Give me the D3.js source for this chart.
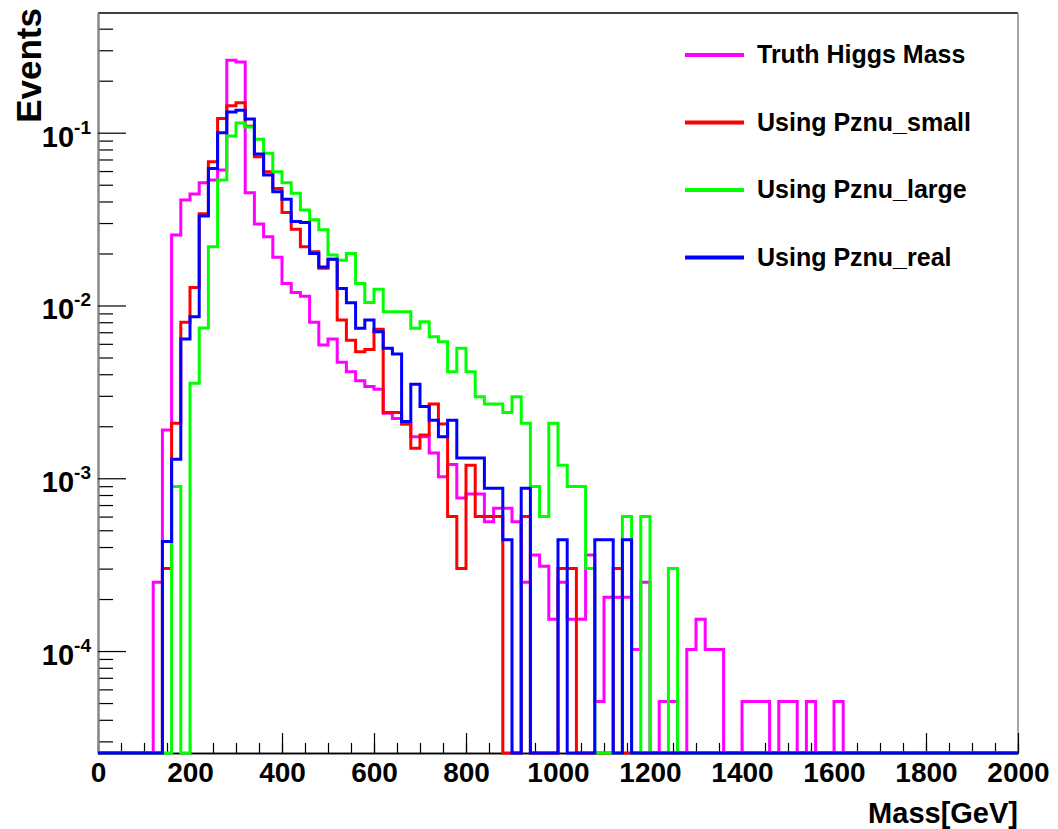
<!DOCTYPE html>
<html>
<head>
<meta charset="utf-8">
<title>Higgs mass reconstruction</title>
<script src="https://cdn.jsdelivr.net/npm/d3@7"></script>
<style>
body { margin: 0; background: #fff; }
text { font-family: "Liberation Sans", Arial, Helvetica, sans-serif; font-weight: bold; fill: #000; }
</style>
</head>
<body>
<svg id="chart" width="1058" height="829"></svg>
<script>
// 20 GeV bins from 0 to 2000 GeV, normalised event fractions
var binWidth = 20;
var binLow = d3.range(0, 2000, binWidth);

var truthMass = [0,0,0,0,0,0,2.5e-4,1.9e-3,0.0256,0.0408,
	0.0442,0.0514,0.0533,0.0608,0.263,0.257,0.0450,0.0296,0.0250,0.0190,
	0.0134,0.0119,0.0113,0.0080,0.0059,0.0064,0.0047,0.00414,0.00367,0.0034,
	0.00327,0.00238,0.00222,0.00206,0.00174,0.00174,0.0014,0.00102,0.0012,0.00077,
	0.00081,0.00081,0.00056,0.00067,0.00067,0.00056,0.00025,0.00036,0.00031,0.000153,
	0.00025,0.000153,0.000153,0.00036,0.000051,0.000205,0.000205,0.000205,0.000102,0.00025,
	0,0.000051,0.000051,0,0.000102,0.000153,0.000102,0.000102,0,0,
	0.000051,0.000051,0.000051,0,0.000051,0.000051,0,0.000051,0,0,
	0.000051,0,0,0,0,0,0,0,0,0,
	0,0,0,0,0,0,0,0,0,0];

var pznuSmall = [0,0,0,0,0,0,0,3.0e-4,0.00208,0.0080,
	0.0127,0.034,0.068,0.121,0.143,0.149,0.109,0.0727,0.0594,0.0476,
	0.0345,0.0276,0.0219,0.0205,0.0164,0.0185,0.00824,0.0063,0.0054,0.00557,
	0.00728,0.0024,0.0024,0.00206,0.00149,0.00178,0.00269,0.00206,0.0006,0.0003,
	0.00119,0.0006,0.0006,0.0006,0,0,0.0006,0,0,0,
	0.0003,0.0003,0,0,0,0,0.0003,0,0,0,
	0,0,0,0,0,0,0,0,0,0,
	0,0,0,0,0,0,0,0,0,0,
	0,0,0,0,0,0,0,0,0,0,
	0,0,0,0,0,0,0,0,0,0];

var pznuLarge = [0,0,0,0,0,0,0,0,0.000895,0,
	0.00355,0.0074,0.0219,0.0532,0.0957,0.114,0.108,0.0916,0.076,0.0594,
	0.0514,0.0446,0.0357,0.0313,0.0274,0.0196,0.0183,0.0200,0.0134,0.0104,
	0.0124,0.0092,0.0092,0.0092,0.00738,0.00805,0.0066,0.00617,0.00414,0.00565,
	0.00414,0.00296,0.00269,0.00269,0.0024,0.00296,0.00208,0.000895,0.0006,0.00208,
	0.00119,0.000895,0.000895,0.0003,0,0,0,0.0006,0,0.0006,
	0,0,0.0003,0,0,0,0,0,0,0,
	0,0,0,0,0,0,0,0,0,0,
	0,0,0,0,0,0,0,0,0,0,
	0,0,0,0,0,0,0,0,0,0];

var pznuReal = [0,0,0,0,0,0,0,4.3e-4,0.00129,0.0064,
	0.0086,0.033,0.062,0.100,0.132,0.135,0.120,0.0753,0.0569,0.0456,
	0.0412,0.0306,0.0302,0.0200,0.0167,0.0185,0.01256,0.01037,0.00738,0.00824,
	0.00705,0.00565,0.00524,0.00213,0.0035,0.0026,0.00217,0.00174,0.00217,0.00131,
	0.00131,0.00131,0.000875,0.000875,0.00044,0,0.000875,0,0,0,
	0.00044,0,0,0,0.00044,0.00044,0,0.00044,0,0,
	0,0,0,0,0,0,0,0,0,0,
	0,0,0,0,0,0,0,0,0,0,
	0,0,0,0,0,0,0,0,0,0,
	0,0,0,0,0,0,0,0,0,0];

var seriesNames = ["Truth Higgs Mass", "Using Pznu_small", "Using Pznu_large", "Using Pznu_real"];
var seriesColors = ["#ff00ff", "#ff0000", "#00ff00", "#0000ff"];
var seriesData = [truthMass, pznuSmall, pznuLarge, pznuReal];

var xTickValues = [0, 200, 400, 600, 800, 1000, 1200, 1400, 1600, 1800, 2000];
var yTickValues = [1e-4, 1e-3, 1e-2, 1e-1];
var yTickExponents = ["-4", "-3", "-2", "-1"];

var yMin = 2.57e-5, yMax = 0.493;

var svg = d3.select("#chart");
var plotLeft = 98, plotRight = 1018, plotTop = 13, plotBottom = 753;

var x = d3.scaleLinear().domain([0, 2000]).range([plotLeft, plotRight]);
var y = d3.scaleLog().domain([yMin, yMax]).range([plotBottom, plotTop]).clamp(true);

// frame: top and right edges
svg.append("line").attr("x1", plotLeft).attr("x2", plotRight).attr("y1", plotTop).attr("y2", plotTop)
	.attr("stroke", "#000").attr("stroke-width", 1.5);
svg.append("line").attr("x1", plotRight).attr("x2", plotRight).attr("y1", plotTop).attr("y2", plotBottom)
	.attr("stroke", "#888").attr("stroke-width", 1.5);

// x axis, ticks pointing into the frame
var gx = svg.append("g").attr("transform", "translate(0," + plotBottom + ")");
gx.call(d3.axisBottom(x).tickValues(x.ticks(40)).tickSizeInner(-10).tickSizeOuter(0).tickFormat(""));
gx.append("g").call(d3.axisBottom(x).tickValues(xTickValues).tickSizeInner(-20).tickSizeOuter(0)
	.tickPadding(9).tickFormat(d3.format("d")));
gx.selectAll("path.domain").attr("stroke", "#000").attr("stroke-width", 1.5);
gx.selectAll(".tick line").attr("stroke", "#000").attr("stroke-width", 1.2);
gx.selectAll(".tick text").attr("font-size", 28).attr("font-family", null).attr("fill", "#000");

// y axis (log), ticks inside
var gy = svg.append("g").attr("transform", "translate(" + plotLeft + ",0)");
var minorY = y.ticks().filter(function(d) {
	return !yTickValues.some(function(t) { return Math.abs(t - d) / t < 1e-6; });
});
gy.call(d3.axisLeft(y).tickValues(minorY).tickSizeInner(-15).tickSizeOuter(0).tickFormat(""));
gy.append("g").call(d3.axisLeft(y).tickValues(yTickValues).tickSizeInner(-28).tickSizeOuter(0).tickFormat(""));
gy.selectAll("path.domain").attr("stroke", "#888").attr("stroke-width", 2);
gy.selectAll(".tick line").attr("stroke", "#000").attr("stroke-width", 1.2);

// decade labels 10^n
var yLabels = svg.append("g").selectAll("text").data(yTickValues).enter().append("text")
	.attr("x", 91).attr("y", function(d) { return y(d) + 14; })
	.attr("text-anchor", "end").attr("font-size", 29);
yLabels.append("tspan").text("10");
yLabels.append("tspan").attr("font-size", 19).attr("dy", -13)
	.text(function(d, i) { return yTickExponents[i]; });

// axis titles
svg.append("text").attr("x", plotRight).attr("y", 823).attr("text-anchor", "end")
	.attr("font-size", 29).text("Mass[GeV]");
svg.append("text").attr("transform", "translate(41,8) rotate(-90)")
	.attr("text-anchor", "end").attr("font-size", 35).text("Events");

// histograms as step lines
var step = d3.line()
	.x(function(d) { return x(d[0]); })
	.y(function(d) { return y(Math.max(d[1], yMin)); })
	.curve(d3.curveStepAfter);

seriesData.forEach(function(vals, k) {
	var pts = binLow.map(function(lo, i) { return [lo, vals[i]]; });
	pts.push([2000, vals[vals.length - 1]]);
	svg.append("path").datum(pts).attr("d", step)
		.attr("fill", "none").attr("stroke", seriesColors[k]).attr("stroke-width", 3);
});

// legend
var legendY = [55, 122.5, 190, 257.5];
var leg = svg.append("g").selectAll("g").data(seriesNames).enter().append("g")
	.attr("transform", function(d, i) { return "translate(0," + legendY[i] + ")"; });
leg.append("line").attr("x1", 685).attr("x2", 744).attr("y1", 0).attr("y2", 0)
	.attr("stroke", function(d, i) { return seriesColors[i]; }).attr("stroke-width", 4);
leg.append("text").attr("x", 757).attr("y", 8).attr("font-size", 25).text(function(d) { return d; });
</script>
</body>
</html>
